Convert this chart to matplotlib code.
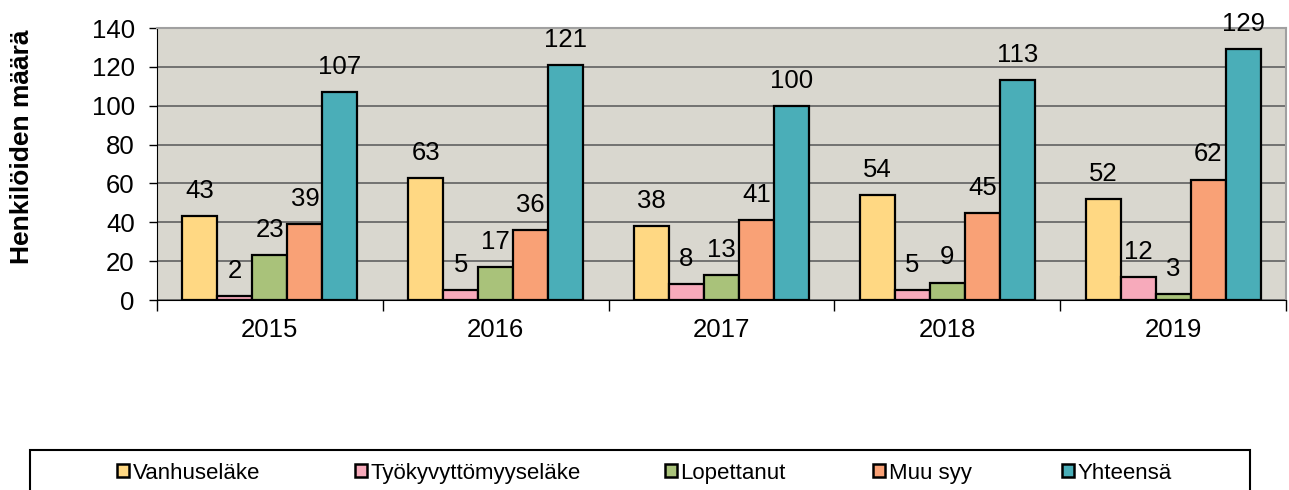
import numpy as np
import matplotlib.pyplot as plt
from matplotlib.patches import Rectangle, Patch

plt.rcParams['font.family'] = ['Liberation Sans', 'DejaVu Sans']

years = ['2015', '2016', '2017', '2018', '2019']
series_names = ['Vanhuseläke', 'Työkyvyttömyyseläke', 'Lopettanut', 'Muu syy', 'Yhteensä']
vanhuselake = [43, 63, 38, 54, 52]
tyokyvyttomyyselake = [2, 5, 8, 5, 12]
lopettanut = [23, 17, 13, 9, 3]
muu_syy = [39, 36, 41, 45, 62]
yhteensa = [107, 121, 100, 113, 129]
series = [vanhuselake, tyokyvyttomyyselake, lopettanut, muu_syy, yhteensa]
colors = ['#FFD883', '#F7AABB', '#A9C27A', '#F9A176', '#4AAEB8']

W, H = 1289, 490
fig = plt.figure(figsize=(W / 100, H / 100), dpi=100)
ax = fig.add_axes([157 / W, 1 - 300 / H, (1286 - 157) / W, (300 - 28) / H])
ax.set_facecolor('#D9D7CF')

x = np.arange(len(years))
bw = 0.155
for i, (vals, col) in enumerate(zip(series, colors)):
    pos = x + (i - 2) * bw
    ax.bar(pos, vals, width=bw, color=col, edgecolor='black', linewidth=1.6, zorder=3)
    for p, v in zip(pos, vals):
        ax.annotate(str(v), xy=(p, v), xytext=(0, 13), textcoords='offset points',
                    ha='center', va='baseline', fontsize=18.5, zorder=4)

ax.set_xlim(-0.5, len(years) - 0.5)
ax.set_ylim(0, 140)
ax.set_yticks(range(0, 141, 20))
ax.tick_params(axis='y', labelsize=18.5, length=6, width=1, direction='out', pad=10)
ax.set_xticks(x)
ax.set_xticklabels(years)
ax.set_xticks(np.arange(-0.5, len(years), 1), minor=True)
ax.tick_params(axis='x', which='major', length=0, labelsize=18.5, pad=13)
ax.tick_params(axis='x', which='minor', length=8, width=1, direction='out')
ax.yaxis.grid(True, color='#6A6A6A', linewidth=1.3, zorder=0)
ax.set_axisbelow(True)

for side in ('top', 'right'):
    ax.spines[side].set_color('#A0A0A0')
    ax.spines[side].set_linewidth(1.5)
ax.spines['left'].set_color('black')
ax.spines['bottom'].set_color('black')

fig.text(22 / W, 1 - 147 / H, 'Henkilöiden määrä', rotation=90, ha='center', va='center',
         fontsize=19, fontweight='bold')

# legend frame and entries
fig.patches.append(Rectangle((30 / W, -0.05), (1250 - 30) / W, 0.05 + 1 - 450 / H,
                             transform=fig.transFigure, fill=False, edgecolor='black',
                             linewidth=1.5))
marker_x = [117, 355, 665, 873, 1062]
for name, col, mx in zip(series_names, colors, marker_x):
    h = Patch(facecolor=col, edgecolor='black', linewidth=1.8)
    fig.legend(handles=[h], labels=[name], loc='center left',
               bbox_to_anchor=(mx / W, 1 - 473 / H), frameon=False, borderpad=0,
               borderaxespad=0, fontsize=16, handlelength=0.55, handleheight=0.55,
               handletextpad=0.15)

fig.savefig('out.png', dpi=100)
